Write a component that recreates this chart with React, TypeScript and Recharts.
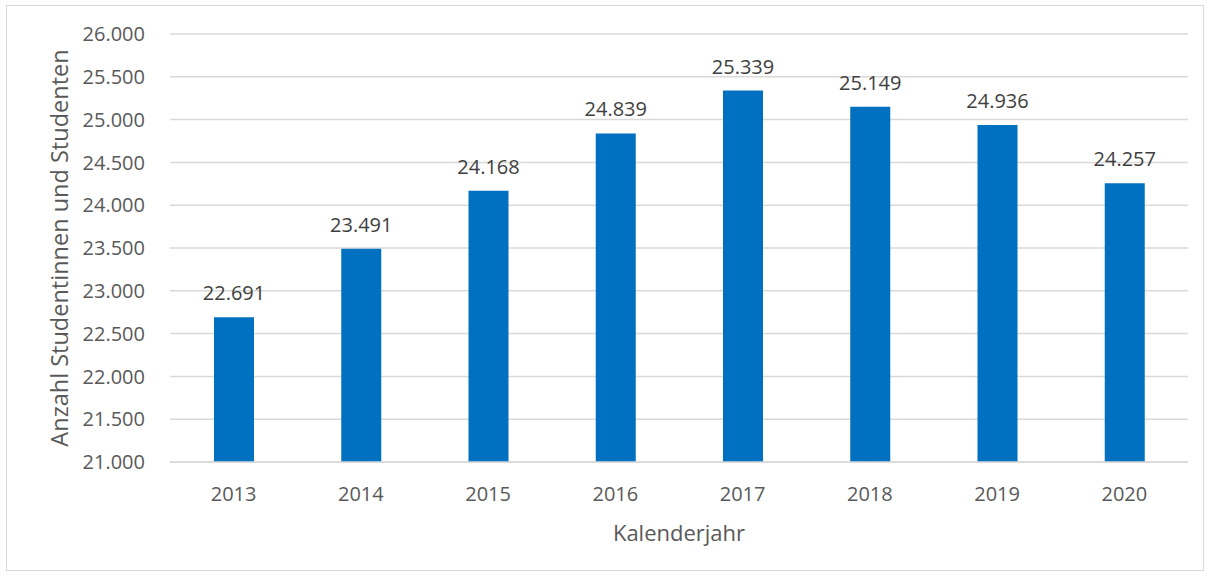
import React from "react";
import { BarChart, Bar, XAxis, YAxis, CartesianGrid, LabelList, Label } from "recharts";

const years = ["2013", "2014", "2015", "2016", "2017", "2018", "2019", "2020"];
const students = [22691, 23491, 24168, 24839, 25339, 25149, 24936, 24257];
const yTicks = [21000, 21500, 22000, 22500, 23000, 23500, 24000, 24500, 25000, 25500, 26000];

const data = years.map((y, i) => ({ year: y, value: students[i] }));

const fmtDe = (v: number) => {
  const s = Math.round(v).toString();
  return s.replace(/\B(?=(\d{3})+(?!\d))/g, ".");
};

const FONT = "'Open Sans', 'Noto Sans', sans-serif";
const TXT = "#595959";

export default function App() {
  return (
    <div
      style={{
        position: "fixed",
        left: 0,
        top: 0,
        width: 1212,
        height: 576,
        background: "#fff",
        fontFamily: FONT,
      }}
    >
      <div
        style={{
          position: "absolute",
          left: 6,
          top: 5,
          width: 1198,
          height: 566,
          border: "1px solid #d9d9d9",
          boxSizing: "border-box",
        }}
      />
      <div style={{ position: "absolute", left: 0, top: 0 }}>
        <BarChart
          width={1212}
          height={576}
          data={data}
          margin={{ top: 34, right: 24, bottom: 20, left: 50 }}
        >
          <CartesianGrid vertical={false} stroke="#d9d9d9" strokeWidth={1.5} />
          <XAxis
            dataKey="year"
            axisLine={{ stroke: "#d9d9d9", strokeWidth: 1.5 }}
            tickLine={false}
            tickMargin={19}
            height={94}
            tick={{ fill: TXT, fontSize: 20, fontFamily: FONT }}
          >
            <Label
              value="Kalenderjahr"
              position="insideBottom"
              offset={15}
              style={{ fill: TXT, fontSize: 22, fontFamily: FONT }}
            />
          </XAxis>
          <YAxis
            domain={[21000, 26000]}
            ticks={yTicks}
            interval={0}
            axisLine={false}
            tickLine={false}
            tickMargin={19}
            width={120}
            tickFormatter={(v: number) => fmtDe(v)}
            tick={{ fill: TXT, fontSize: 20, fontFamily: FONT }}
          >
            <Label
              value="Anzahl Studentinnen und Studenten"
              angle={-90}
              position="insideLeft"
              offset={10}
              style={{ fill: TXT, fontSize: 23.5, fontFamily: FONT, textAnchor: "middle" }}
            />
          </YAxis>
          <Bar dataKey="value" fill="#0070C0" barSize={40} isAnimationActive={false}>
            <LabelList
              dataKey="value"
              position="top"
              offset={17}
              formatter={(v: number) => fmtDe(v)}
              style={{ fill: "#404040", fontSize: 20, fontFamily: FONT }}
            />
          </Bar>
        </BarChart>
      </div>
    </div>
  );
}
